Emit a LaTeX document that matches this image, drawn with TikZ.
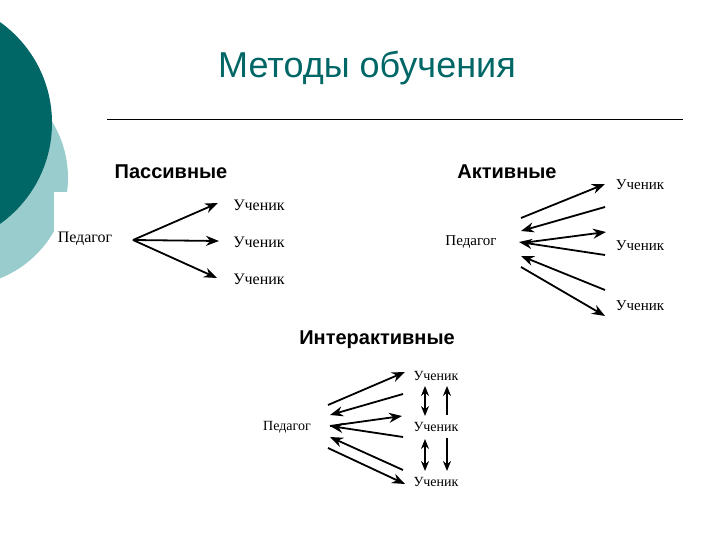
\documentclass[tikz,border=0pt]{standalone}
\usepackage{fontspec}
\setmainfont{Liberation Serif}
\newfontfamily\headfont{Liberation Sans}
\usetikzlibrary{positioning, arrows.meta, calc}
\definecolor{tealdark}{RGB}{0,102,102}
\definecolor{teallight}{RGB}{153,204,204}

\begin{document}
\begin{tikzpicture}[
    x=1pt, y=-1pt,
    who/.style={
        font=\fontsize{15}{16}\selectfont,
        inner sep=1pt
    },
    heading/.style={
        font=\headfont\bfseries\fontsize{20}{22}\selectfont
    },
    arr/.style={
        line width=1.8pt,
        -{Stealth[length=13pt, width=10pt]}
    },
    small/.style={
        line width=1.5pt,
        -{Stealth[length=10pt, width=8pt]}
    },
    twoway/.style={
        line width=1.5pt,
        {Stealth[length=10pt, width=8pt]}-{Stealth[length=10pt, width=8pt]}
    }
]
\useasboundingbox (0,0) rectangle (720,540);

% --- Sfondo: cerchi a sinistra ---
\begin{scope}
    \clip (0,0) rectangle (720,540);
    \fill[teallight] (-40,178) circle (108);
    \fill[tealdark] (-72,123) circle (124);
    \fill[white] (54,192) rectangle (80,300);
\end{scope}

% --- Titolo ---
\node[font=\headfont\fontsize{36}{40}\selectfont, text=tealdark] (title) at (367,68) {Методы обучения};
\coordinate (ruleL) at (107,120);
\coordinate (ruleR) at (683,120);
\draw[line width=1pt] (ruleL) -- (ruleR);

% --- Passivi ---
\node[heading] (passive) at (171,172) {Пассивные};
\node[who, font=\fontsize{16}{17}\selectfont] (pedP) at (85,239) {Педагог};
\node[who, font=\fontsize{16}{17}\selectfont] (uchP1) at (259,205) {Ученик};
\node[who, font=\fontsize{16}{17}\selectfont] (uchP2) at (259,242) {Ученик};
\node[who, font=\fontsize{16}{17}\selectfont] (uchP3) at (259,279) {Ученик};

\coordinate (p0) at (133,240);
\coordinate (p1) at (218,203);
\coordinate (p2) at (219,241);
\coordinate (p3) at (217,278);
\draw[arr] (p0) -- (p1);
\draw[arr] (p0) -- (p2);
\draw[arr] (p0) -- (p3);

% --- Attivi ---
\node[heading] (active) at (507,172) {Активные};
\node[who] (pedA) at (471,242) {Педагог};
\node[who] (uchA1) at (640,185) {Ученик};
\node[who] (uchA2) at (640,246) {Ученик};
\node[who] (uchA3) at (640,306) {Ученик};

\coordinate (a1s) at (521,218); \coordinate (a1e) at (605,184);
\coordinate (a2s) at (605,207); \coordinate (a2e) at (521,231);
\coordinate (a3s) at (522,243); \coordinate (a3e) at (606,232);
\coordinate (a4s) at (605,255); \coordinate (a4e) at (519,242);
\coordinate (a5s) at (605,290); \coordinate (a5e) at (521,256);
\coordinate (a6s) at (521,267); \coordinate (a6e) at (605,316);
\draw[arr] (a1s) -- (a1e);
\draw[arr] (a2s) -- (a2e);
\draw[arr] (a3s) -- (a3e);
\draw[arr] (a4s) -- (a4e);
\draw[arr] (a5s) -- (a5e);
\draw[arr] (a6s) -- (a6e);

% --- Interattivi ---
\node[heading] (inter) at (377,340) {Интерактивные};
\node[who, font=\fontsize{14}{15}\selectfont] (pedI) at (287,427) {Педагог};
\node[who, font=\fontsize{14}{15}\selectfont] (uchI1) at (436,376) {Ученик};
\node[who, font=\fontsize{14}{15}\selectfont] (uchI2) at (436,427) {Ученик};
\node[who, font=\fontsize{14}{15}\selectfont] (uchI3) at (436,482) {Ученик};

\coordinate (i1s) at (328,405); \coordinate (i1e) at (405,372);
\coordinate (i2s) at (403,394); \coordinate (i2e) at (330,415);
\coordinate (i3s) at (330,426); \coordinate (i3e) at (402,416);
\coordinate (i4s) at (403,437); \coordinate (i4e) at (330,426);
\coordinate (i5s) at (403,470); \coordinate (i5e) at (330,437);
\coordinate (i6s) at (328,448); \coordinate (i6e) at (405,484);
\draw[arr] (i1s) -- (i1e);
\draw[arr] (i2s) -- (i2e);
\draw[arr] (i3s) -- (i3e);
\draw[arr] (i4s) -- (i4e);
\draw[arr] (i5s) -- (i5e);
\draw[arr] (i6s) -- (i6e);

% frecce verticali tra gli allievi
\coordinate (v1a) at (425,386); \coordinate (v1b) at (425,416);
\coordinate (v2a) at (447,415); \coordinate (v2b) at (447,386);
\coordinate (v3a) at (425,439); \coordinate (v3b) at (425,471);
\coordinate (v4a) at (447,438); \coordinate (v4b) at (447,471);
\draw[twoway] (v1a) -- (v1b);
\draw[small] (v2a) -- (v2b);
\draw[twoway] (v3a) -- (v3b);
\draw[small] (v4a) -- (v4b);

\end{tikzpicture}
\end{document}
